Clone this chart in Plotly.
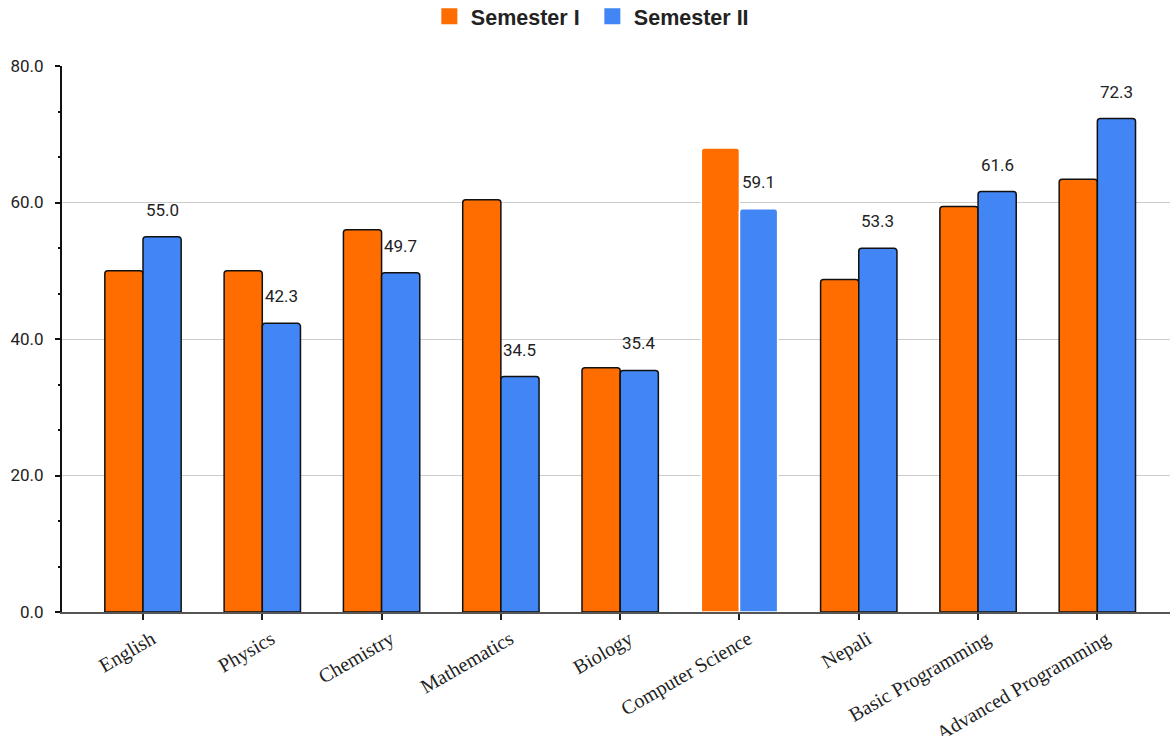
import plotly.graph_objects as go

subjects = ["English", "Physics", "Chemistry", "Mathematics", "Biology",
            "Computer Science", "Nepali", "Basic Programming", "Advanced Programming"]
semester_1 = [50.0, 50.0, 56.0, 60.4, 35.8, 68.0, 48.7, 59.4, 63.4]
semester_2 = [55.0, 42.3, 49.7, 34.5, 35.4, 59.1, 53.3, 61.6, 72.3]
y_ticks = [0, 20, 40, 60, 80]

ORANGE = "#FF6D00"
BLUE = "#4285F4"

# Computer Science bars are drawn without the dark outline
edge_colors = ["white" if s == "Computer Science" else "#111111" for s in subjects]

fig = go.Figure()
fig.add_trace(go.Bar(x=subjects, y=semester_1, name="Semester I", showlegend=False,
                     marker=dict(color=ORANGE, cornerradius=3,
                                 line=dict(color=edge_colors, width=1.5))))
fig.add_trace(go.Bar(x=subjects, y=semester_2, name="Semester II", showlegend=False,
                     marker=dict(color=BLUE, cornerradius=3,
                                 line=dict(color=edge_colors, width=1.5))))

# Legend entries with larger square swatches
for name, col in [("Semester I", ORANGE), ("Semester II", BLUE)]:
    fig.add_trace(go.Scatter(x=[None], y=[None], mode="markers", name=name,
                             marker=dict(symbol="square", size=18, color=col)))

# Value labels above the Semester II bars
for s, v in zip(subjects, semester_2):
    fig.add_annotation(x=s, y=v, text=f"{v:.1f}", showarrow=False,
                       xshift=19, yshift=27, yanchor="middle",
                       font=dict(family="Roboto", size=17, color="#222222"))

fig.update_layout(
    width=1170, height=736,
    margin=dict(l=62, r=0, t=66, b=124),
    paper_bgcolor="white", plot_bgcolor="white",
    barmode="group", bargap=0.36, bargroupgap=0,
    showlegend=True,
    legend=dict(orientation="h", xref="container", yref="container",
                x=0.505, xanchor="center", y=0.978, yanchor="middle",
                font=dict(family="Liberation Sans", size=21.5, color="#222222",
                          weight="bold"),
                itemwidth=33, entrywidth=115),
    xaxis=dict(range=[-0.679, 8.609], showgrid=False,
               showline=True, linecolor="#555555", linewidth=1.5,
               ticks="outside", ticklen=6, tickcolor="#222222", tickwidth=1.5,
               tickangle=-30, automargin=False, ticklabelshift=9,
               tickfont=dict(family="Liberation Serif", size=20, color="#222222")),
    yaxis=dict(range=[0, 80], tickvals=y_ticks,
               ticktext=[f"{t:.1f}" for t in y_ticks],
               showgrid=True, gridcolor="#cccccc", gridwidth=1,
               showline=True, linecolor="#111111", linewidth=2,
               ticks="outside", ticklen=5, tickcolor="#111111", tickwidth=1.5,
               minor=dict(dtick=20 / 3, tick0=0, ticks="outside", ticklen=2,
                          tickcolor="#111111", tickwidth=1.5, showgrid=False),
               ticklabelstandoff=8, automargin=False, zeroline=False,
               tickfont=dict(family="Roboto", size=17, color="#222222")),
    yaxis2=dict(range=[0, 80], overlaying="y", side="left", anchor="x",
                tickvals=y_ticks, showticklabels=False, showgrid=False,
                showline=False, zeroline=False,
                ticks="inside", ticklen=5, tickcolor="#111111", tickwidth=1.5,
                minor=dict(dtick=20 / 3, tick0=0, ticks="inside", ticklen=2,
                           tickcolor="#111111", tickwidth=1.5, showgrid=False)),
)

fig.write_html("out.html")
